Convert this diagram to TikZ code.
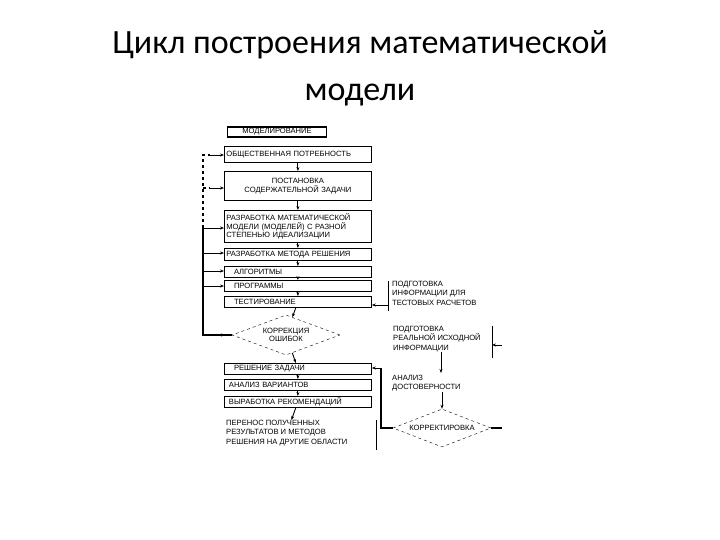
\documentclass[tikz,border=0pt]{standalone}
\usepackage{fontspec}
\setmainfont{Carlito}
\newfontfamily\boxfont{Liberation Sans}
\usetikzlibrary{shapes.geometric,arrows.meta}
\begin{document}
\begin{tikzpicture}[x=1pt,y=-1pt,
  bx/.style={draw,line width=0.8pt,inner sep=1pt,font=\boxfont\fontsize{7.6}{8.6}\selectfont,align=center},
  tx/.style={inner sep=0pt,font=\boxfont\fontsize{7.6}{9.4}\selectfont,align=left,anchor=north west},
  ar/.style={-{Stealth[length=4pt]},line width=0.9pt},
  fb/.style={line width=1.4pt}]
\useasboundingbox (0,0) rectangle (720,540);
\node[font=\fontsize{34}{40}\selectfont] (t1) at (360,45) {Цикл построения математической};
\node[font=\fontsize{34}{40}\selectfont] (t2) at (360,95) {модели};
% boxes
\node[bx,line width=1.6pt,minimum width=99,minimum height=10,inner sep=0pt] (m) at (277,132) {МОДЕЛИРОВАНИЕ};
\node[bx,minimum width=147,minimum height=16,anchor=north west,align=left,text width=143] (b1) at (224,146) {ОБЩЕСТВЕННАЯ ПОТРЕБНОСТЬ};
\node[bx,minimum width=147,minimum height=29,anchor=north west,text width=143] (b2) at (224,171) {ПОСТАНОВКА СОДЕРЖАТЕЛЬНОЙ ЗАДАЧИ};
\node[bx,minimum width=147,minimum height=32,anchor=north west,text width=143,align=left] (b3) at (224,210) {РАЗРАБОТКА МАТЕМАТИЧЕСКОЙ МОДЕЛИ (МОДЕЛЕЙ) С РАЗНОЙ СТЕПЕНЬЮ ИДЕАЛИЗАЦИИ};
\node[bx,minimum width=147,minimum height=12,anchor=north west,text width=143,align=left] (b4) at (224,248) {РАЗРАБОТКА МЕТОДА РЕШЕНИЯ};
\node[bx,minimum width=147,minimum height=11,anchor=north west,text width=143,align=left] (b5) at (224,266) {\quad АЛГОРИТМЫ};
\node[bx,minimum width=147,minimum height=11,anchor=north west,text width=143,align=left] (b6) at (224,280) {\quad ПРОГРАММЫ};
\node[bx,minimum width=147,minimum height=11,anchor=north west,text width=143,align=left] (b7) at (224,296) {\quad ТЕСТИРОВАНИЕ};
\node[draw,dashed,diamond,aspect=2.6,inner sep=0pt,minimum width=108,minimum height=40,font=\boxfont\fontsize{7.6}{8.6}\selectfont,align=center] (d1) at (286,335) {КОРРЕКЦИЯ\\ОШИБОК};
\node[bx,minimum width=147,minimum height=11,anchor=north west,text width=143,align=left] (b8) at (224,363) {\quad РЕШЕНИЕ ЗАДАЧИ};
\node[bx,minimum width=147,minimum height=11,anchor=north west,text width=143,align=left] (b9) at (224,379) {\ АНАЛИЗ ВАРИАНТОВ};
\node[bx,minimum width=147,minimum height=11,anchor=north west,text width=143,align=left] (b10) at (224,396) {\ ВЫРАБОТКА РЕКОМЕНДАЦИЙ};
\node[tx] (b11) at (226,420) {ПЕРЕНОС ПОЛУЧЕННЫХ\\РЕЗУЛЬТАТОВ И МЕТОДОВ\\РЕШЕНИЯ НА ДРУГИЕ ОБЛАСТИ};
\coordinate (v1) at (376,420); \coordinate (v2) at (376,450);
\draw[line width=0.8pt] (v1) -- (v2);
% right column
\node[tx] (r1) at (392,281) {ПОДГОТОВКА\\ИНФОРМАЦИИ ДЛЯ\\ТЕСТОВЫХ РАСЧЕТОВ};
\coordinate (r1a) at (388,281); \coordinate (r1b) at (388,311);
\draw[line width=0.8pt] (r1a) -- (r1b);
\node[tx] (r2) at (393,326) {ПОДГОТОВКА\\РЕАЛЬНОЙ ИСХОДНОЙ\\ИНФОРМАЦИИ};
\coordinate (r2a) at (492,326); \coordinate (r2b) at (492,358);
\draw[line width=0.8pt] (r2a) -- (r2b);
\node[tx] (r3) at (392,375) {АНАЛИЗ\\ДОСТОВЕРНОСТИ};
\node[draw,dashed,diamond,aspect=2.6,inner sep=0pt,minimum width=98,minimum height=38,font=\boxfont\fontsize{7.6}{8.6}\selectfont] (d2) at (442,428) {КОРРЕКТИРОВКА};
% vertical arrows
\draw[ar] (b1) -- (b2);
\draw[ar] (b2) -- (b3);
\draw[ar] (b3) -- (b4);
\draw[ar] (b4) -- (b5);
\draw[ar] (b5) -- (b6);
\draw[ar] (b6) -- (b7);
\draw[ar] (b7) -- (d1);
\draw[ar] (d1) -- (b8);
\draw[ar] (b8) -- (b9);
\draw[ar] (b9) -- (b10);
\draw[ar] (b10) -- (b11);
\draw[ar] (r2.south -| 441,0) -- (441,373);
\draw[ar] (r3.south -| d2) -- (d2);
% feedback left
\coordinate (L0) at (203,335); \coordinate (L1) at (203,228);
\coordinate (L2) at (203,155); \coordinate (L3) at (203,188);
\draw[fb] (d1.west) -- (L0) -- (L1);
\draw[fb,dashed] (L1) -- (L2) -- (210,155);
\draw[ar] (210,155) -- (b1.west |- 210,155);
\draw[fb,dashed] (L3) -- (210,188);
\draw[ar] (210,188) -- (b2.west |- 210,188);
\draw[ar] (L1) -- (b3.west |- L1);
\draw[ar] (203,253) -- (b4.west |- 203,253);
\draw[ar] (203,271) -- (b5.west |- 203,271);
\draw[ar] (203,286) -- (b6.west |- 203,286);
\draw[ar] (232,335) -- (218,335);
% right connections
\draw[ar] (r1a |- 0,305) -- (b7.east |- 0,305);
\draw[ar] (502,345) -- (r2a |- 0,345);
\draw[fb] (d2.west) -- (381,428) -- (381,368);
\draw[ar] (381,368) -- (b8.east |- 0,368);
\draw[fb] (d2.east) -- (502,428);
\end{tikzpicture}
\end{document}
